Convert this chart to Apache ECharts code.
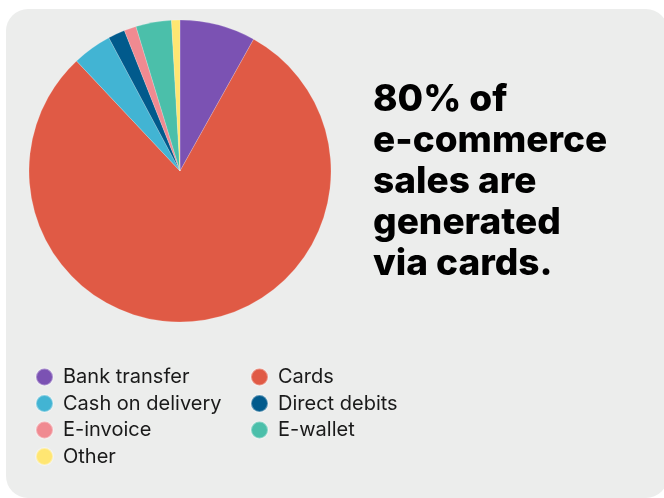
<!DOCTYPE html>
<html>
<head>
<meta charset="utf-8">
<script src="https://cdn.jsdelivr.net/npm/echarts@6/dist/echarts.min.js"></script>
<style>
html,body{margin:0;padding:0;background:#ffffff;}
#panel{position:absolute;left:6px;top:9px;width:662px;height:489px;background:#ECEDEC;border-radius:22px;}
#chart{position:absolute;left:0;top:0;width:664px;height:498px;}
</style>
</head>
<body>
<div id="panel"></div>
<div id="chart"></div>
<script>
const categories = ['Bank transfer','Cards','Cash on delivery','Direct debits','E-invoice','E-wallet','Other'];
const values = [8.1, 79.8, 4.2, 1.8, 1.3, 3.8, 0.9];
const colors = ['#7B52B3','#E05A45','#42B4D3','#015A8C','#F08A91','#4BBFAA','#FFE672'];
const headline = ['80% of','e-commerce','sales are','generated','via cards.'];
const leftLegend = ['Bank transfer','Cash on delivery','E-invoice','Other'];
const rightLegend = ['Cards','Direct debits','E-wallet'];

const chart = echarts.init(document.getElementById('chart'), null, {renderer:'canvas'});
const legendBase = {
  orient:'vertical',
  top: 367,
  padding:0,
  icon:'circle',
  itemWidth:17,
  itemHeight:17,
  itemGap:6.5,
  selectedMode:false,
  textStyle:{fontFamily:'Inter', fontSize:20, lineHeight:20, color:'#1a1a1a', padding:[0,0,0,5]}
};
chart.setOption({
  backgroundColor:'transparent',
  color: colors,
  title:{
    text: headline.join('\n'),
    left: 373,
    top: 79,
    padding:0,
    textStyle:{fontFamily:'Inter', fontWeight:800, fontSize:37, lineHeight:41, color:'#000000'}
  },
  legend:[
    Object.assign({}, legendBase, {left:35, data:leftLegend}),
    Object.assign({}, legendBase, {left:250, data:rightLegend})
  ],
  series:[{
    type:'pie',
    center:[180,171],
    radius:151,
    startAngle:90,
    clockwise:true,
    label:{show:false},
    labelLine:{show:false},
    emphasis:{disabled:true},
    itemStyle:{borderColor:'rgba(255,255,255,0.35)', borderWidth:0.5},
    data: categories.map((c,i)=>({name:c, value:values[i]}))
  }]
});
</script>
</body>
</html>
